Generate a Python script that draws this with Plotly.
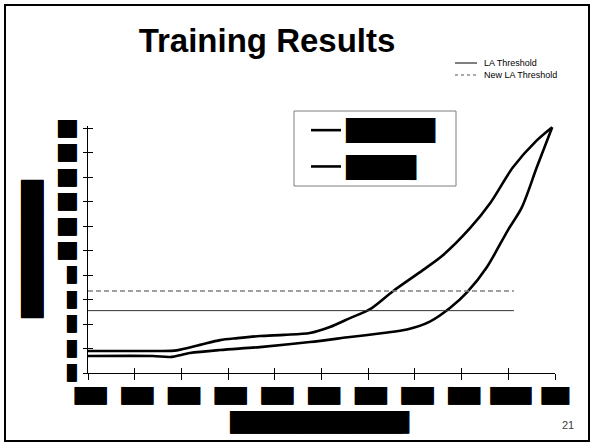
import plotly.graph_objects as go

# ---- data -------------------------------------------------------------
# Blood lactate curves for the two test sessions (x = stage, y = lactate)
curve_a_x = [0, 1.0, 1.5, 1.9, 2.4, 2.83, 3.2, 3.68, 4.2, 4.75, 5.18, 5.61,
             6.04, 6.53, 7.17, 7.60, 8.18, 8.61, 9.10, 9.61, 9.94]
curve_a_y = [1.80, 1.80, 1.80, 1.85, 2.30, 2.69, 2.85, 3.02, 3.12, 3.27, 3.76,
             4.49, 5.22, 6.69, 8.41, 9.63, 11.84, 13.88, 16.82, 19.02, 20.1]

curve_b_x = [0, 1.39, 1.76, 2.18, 2.83, 3.68, 4.75, 5.61, 6.32, 6.83, 7.32,
             7.75, 8.12, 8.54, 8.99, 9.29, 9.61, 9.94]
curve_b_y = [1.39, 1.39, 1.31, 1.63, 1.88, 2.12, 2.53, 2.94, 3.27, 3.55, 4.20,
             5.31, 6.61, 8.65, 11.67, 13.55, 16.82, 20.1]

# Threshold levels and their horizontal extent
threshold_x = [0, 9.12]
la_threshold = 5.1
new_la_threshold = 6.7

# Series names and axis texts (blacked out)
series_names = ["███████", "█████▌"]
x_tick_vals = list(range(11))
x_tick_text = ["▐███"] * 9 + ["▐████", "███"]
y_tick_vals = list(range(0, 21, 2))
y_tick_text = ["█"] * 5 + ["██"] * 6
x_title = "███████████████▋"
y_title = "████████████"

# ---- layout constants (pixels) ----------------------------------------
W, H = 594, 447
PL, PR, PT, PB = 88, 555, 126, 373
BLOCK_FONT = "DejaVu Sans Mono"
BLOCK_SHADOW = "0.7px 0px 0px black"


def px(x):
    return (x - PL) / (PR - PL)


def py(y):
    return (PB - y) / (PB - PT)


def block_font(size):
    return dict(family=BLOCK_FONT, size=size, color="black", shadow=BLOCK_SHADOW)


fig = go.Figure()

for i, (xs, ys, name) in enumerate([(curve_a_x, curve_a_y, series_names[0]),
                                    (curve_b_x, curve_b_y, series_names[1])]):
    fig.add_trace(go.Scatter(
        x=xs, y=ys, name=name, mode="lines", legendgroup=f"g{i}",
        line=dict(color="black", width=2.6, shape="spline", smoothing=0.8),
    ))

fig.add_trace(go.Scatter(
    x=threshold_x, y=[la_threshold] * 2, mode="lines", showlegend=False,
    name="LA Threshold", line=dict(color="#333333", width=1),
    xaxis="x2", yaxis="y2",
))
fig.add_trace(go.Scatter(
    x=threshold_x, y=[new_la_threshold] * 2, mode="lines", showlegend=False,
    name="New LA Threshold",
    line=dict(color="#808080", width=1.6, dash="5px,3px"),
    xaxis="x2", yaxis="y2",
))

common_axis = dict(showgrid=False, zeroline=False)

fig.update_layout(
    width=W, height=H,
    margin=dict(l=PL, r=W - PR, t=PT, b=H - PB, autoexpand=False),
    paper_bgcolor="white", plot_bgcolor="white",
    title=dict(
        text="<b>Training Results</b>",
        font=dict(family="Liberation Sans, Arial", size=33, color="black"),
        x=267 / W, xref="container", xanchor="center",
        y=1 - 40 / H, yref="container", yanchor="middle",
    ),
    xaxis=dict(
        range=[0, 10], showline=True, linecolor="black", linewidth=1,
        ticks="outside", ticklen=6, tickcolor="black", tickwidth=1,
        tickvals=x_tick_vals, ticktext=x_tick_text, tickangle=0,
        tickfont=block_font(15), ticklabelstandoff=3,
        title=dict(text=x_title, standoff=11, font=block_font(19)),
        **common_axis,
    ),
    xaxis2=dict(
        range=[0, 10], overlaying="x", side="bottom", showline=False,
        ticks="inside", ticklen=5, tickcolor="black", tickwidth=1,
        tickvals=x_tick_vals, showticklabels=False, **common_axis,
    ),
    yaxis=dict(
        range=[0, 20.2], showline=True, linecolor="black", linewidth=1,
        ticks="outside", ticklen=4, tickcolor="black", tickwidth=1,
        tickvals=y_tick_vals, ticktext=y_tick_text,
        tickfont=block_font(15), ticklabelstandoff=4,
        title=dict(text=y_title, standoff=12, font=block_font(19)),
        **common_axis,
    ),
    yaxis2=dict(
        range=[0, 20.2], overlaying="y", side="left", showline=False,
        ticks="inside", ticklen=5, tickcolor="black", tickwidth=1,
        tickvals=y_tick_vals, showticklabels=False, **common_axis,
    ),
    legend=dict(
        x=px(306), y=py(110), xanchor="left", yanchor="top",
        bgcolor="rgba(0,0,0,0)", borderwidth=0,
        font=block_font(21), tracegroupgap=6,
    ),
    showlegend=True,
)

# Slide frame
fig.add_shape(type="rect", xref="paper", yref="paper",
              x0=px(5), x1=px(589), y0=py(5), y1=py(441),
              line=dict(color="black", width=2), fillcolor="rgba(0,0,0,0)",
              layer="below")

# Legend frame
fig.add_shape(type="rect", xref="paper", yref="paper",
              x0=px(294), x1=px(456), y0=py(111), y1=py(186),
              line=dict(color="#7f7f7f", width=1), fillcolor="white",
              layer="below")

# Threshold key (top right)
key_rows = [("LA Threshold", 63, dict(color="black", width=1)),
            ("New LA Threshold", 75, dict(color="#555555", width=1, dash="dot"))]
for label, ky, ln in key_rows:
    fig.add_shape(type="line", xref="paper", yref="paper",
                  x0=px(455), x1=px(477), y0=py(ky), y1=py(ky), line=ln)
    fig.add_annotation(text=label, xref="paper", yref="paper",
                       x=px(482), y=py(ky), xanchor="left", yanchor="middle",
                       showarrow=False,
                       font=dict(family="Liberation Sans, Arial", size=9,
                                 color="black"))

# Slide number
fig.add_annotation(text="21", xref="paper", yref="paper",
                   x=px(568), y=py(425), xanchor="center", yanchor="middle",
                   showarrow=False,
                   font=dict(family="Liberation Sans, Arial", size=11,
                             color="#404040"))

fig.write_html("out.html")
